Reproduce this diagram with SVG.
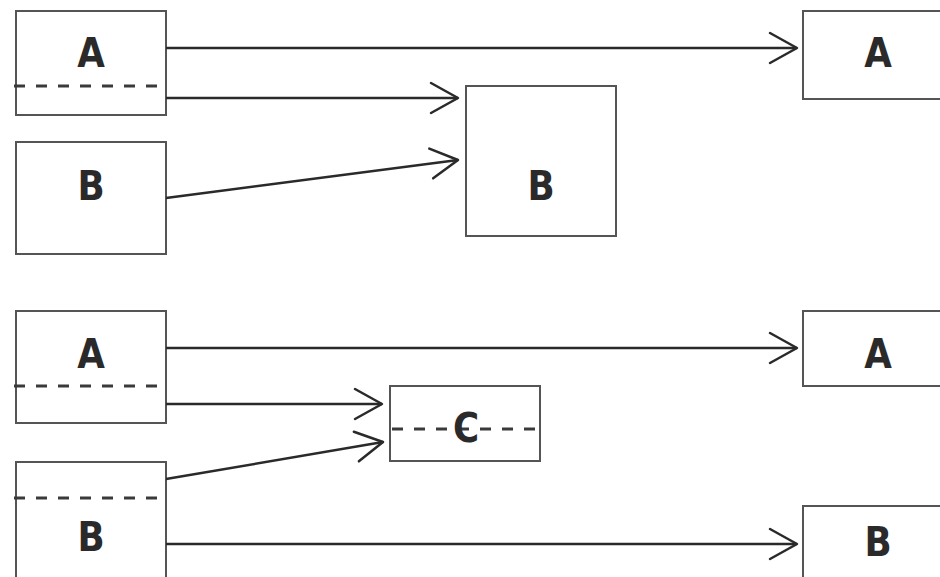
<svg xmlns="http://www.w3.org/2000/svg" width="940" height="577" viewBox="0 0 940 577">
<defs>
<marker id="arr" markerUnits="userSpaceOnUse" viewBox="-30 -20 34 40" markerWidth="34" markerHeight="40" refX="0" refY="0" orient="auto">
<path d="M-27,-15 L0,0 L-27,15" fill="none" stroke="#2a2a2a" stroke-width="2.5" stroke-linecap="round" stroke-linejoin="round"/>
</marker>
</defs>
<style>
.box{fill:#ffffff;stroke:#555555;stroke-width:2}
.dash{fill:none;stroke:#3a3a3a;stroke-width:3;stroke-dasharray:11 11}
.lbl{font-family:"DejaVu Sans",sans-serif;font-weight:bold;font-size:41px;fill:#2a2a2a;text-anchor:middle}
.edge{fill:none;stroke:#2a2a2a;stroke-width:2.5;marker-end:url(#arr)}
</style>
<rect width="940" height="577" fill="#ffffff"/>

<g id="top-left-A">
<rect class="box" x="16" y="11" width="150" height="104"/>
<line class="dash" x1="14" y1="86" x2="158" y2="86"/>
<text class="lbl" transform="translate(91,67) scale(0.87,1)">A</text>
</g>
<g id="top-left-B">
<rect class="box" x="16" y="142" width="150" height="112"/>
<text class="lbl" transform="translate(91,200) scale(0.87,1)">B</text>
</g>
<g id="top-mid-B">
<rect class="box" x="466" y="86" width="150" height="150"/>
<text class="lbl" transform="translate(541,200) scale(0.87,1)">B</text>
</g>
<g id="top-right-A">
<rect class="box" x="803" y="11" width="150" height="88"/>
<text class="lbl" transform="translate(878,67) scale(0.87,1)">A</text>
</g>

<g id="bottom-left-A">
<rect class="box" x="16" y="311" width="150" height="112"/>
<line class="dash" x1="14" y1="386" x2="158" y2="386"/>
<text class="lbl" transform="translate(91,368) scale(0.87,1)">A</text>
</g>
<g id="bottom-left-B">
<rect class="box" x="16" y="462" width="150" height="125"/>
<line class="dash" x1="14" y1="498" x2="158" y2="498"/>
<text class="lbl" transform="translate(91,551) scale(0.87,1)">B</text>
</g>
<g id="bottom-mid-C">
<rect class="box" x="390" y="386" width="150" height="75"/>
<line class="dash" x1="392" y1="429" x2="536" y2="429"/>
<text class="lbl" transform="translate(466,442) scale(0.87,1)">C</text>
</g>
<g id="bottom-right-A">
<rect class="box" x="803" y="311" width="150" height="75"/>
<text class="lbl" transform="translate(878,368) scale(0.87,1)">A</text>
</g>
<g id="bottom-right-B">
<rect class="box" x="803" y="506" width="150" height="90"/>
<text class="lbl" transform="translate(878,556) scale(0.87,1)">B</text>
</g>

<g id="connectors">
<line class="edge" x1="166" y1="48" x2="797" y2="48"/>
<line class="edge" x1="166" y1="98" x2="458" y2="98"/>
<line class="edge" x1="166" y1="198" x2="458" y2="160"/>
<line class="edge" x1="166" y1="348" x2="797" y2="348"/>
<line class="edge" x1="166" y1="404" x2="382" y2="404"/>
<line class="edge" x1="166" y1="479" x2="383" y2="442"/>
<line class="edge" x1="166" y1="544" x2="797" y2="544"/>
</g>
</svg>
